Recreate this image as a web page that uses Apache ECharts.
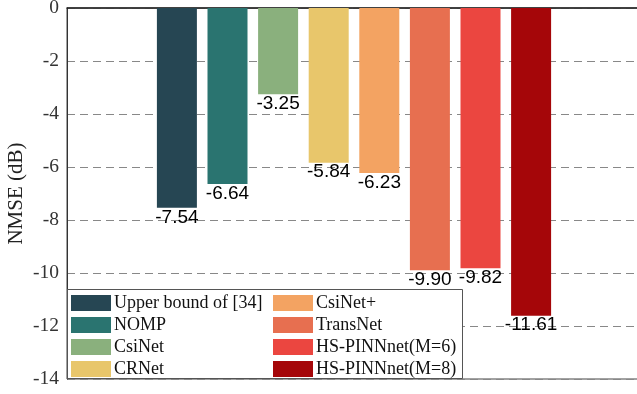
<!DOCTYPE html>
<html>
<head>
<meta charset="utf-8">
<script src="https://cdn.jsdelivr.net/npm/echarts@6/dist/echarts.min.js"></script>
<style>
  html, body { margin: 0; padding: 0; background: #fff; }
  #chart { width: 637px; height: 394px; }
</style>
</head>
<body>
<div id="chart"></div>
<script>
// NMSE of each channel feedback scheme
const methods = ['Upper bound of [34]', 'NOMP', 'CsiNet', 'CRNet', 'CsiNet+', 'TransNet', 'HS-PINNnet(M=6)', 'HS-PINNnet(M=8)'];
const nmseValues = [-7.54, -6.64, -3.25, -5.84, -6.23, -9.90, -9.82, -11.61];
const barColors = ['#264653', '#2A7470', '#8AB07D', '#E8C66B', '#F3A362', '#E76F50', '#EB4640', '#A50609'];
const yTicks = [0, -2, -4, -6, -8, -10, -12, -14];

const serif = 'Liberation Serif';
const sans = 'Liberation Sans';

const series = methods.map((name, i) => ({
  name: name,
  type: 'bar',
  barWidth: 40,
  barGap: '26.5%',
  barCategoryGap: '31%',
  itemStyle: { color: barColors[i] },
  data: [nmseValues[i]],
  label: {
    show: true,
    position: 'bottom',
    distance: 0,
    color: '#000',
    fontFamily: sans,
    fontSize: 19,
    formatter: p => p.value.toFixed(2)
  }
}));

const chart = echarts.init(document.getElementById('chart'), null, { renderer: 'canvas' });

const legendBase = {
  orient: 'vertical',
  top: 294,
  itemWidth: 40,
  itemHeight: 16,
  itemGap: 4,
  icon: 'rect',
  padding: 0,
  textStyle: { fontFamily: serif, fontSize: 18, color: '#111', padding: [0, 0, 0, -2] },
  z: 10
};

chart.setOption({
  animation: false,
  grid: {
    left: 67, top: 8, width: 574, height: 371,
    outerBoundsMode: 'none',
    containLabel: false,
    show: true, borderColor: '#444', borderWidth: 1, backgroundColor: 'transparent'
  },
  xAxis: {
    type: 'category',
    data: [''],
    axisLine: { show: true, onZero: true, lineStyle: { color: '#222', width: 1.5 } },
    axisTick: { show: false },
    axisLabel: { show: false },
    splitLine: { show: false }
  },
  yAxis: {
    type: 'value',
    min: yTicks[yTicks.length - 1],
    max: yTicks[0],
    interval: 2,
    name: 'NMSE (dB)',
    nameLocation: 'middle',
    nameMoveOverlap: false,
    nameGap: 40,
    nameTextStyle: { fontFamily: serif, fontSize: 21, color: '#222' },
    axisLine: { show: true, lineStyle: { color: '#333', width: 1 } },
    axisTick: { show: false },
    axisLabel: { fontFamily: serif, fontSize: 19.5, color: '#333', margin: 8 },
    splitLine: { show: true, lineStyle: { color: '#888', type: [8, 5], width: 1 } }
  },
  legend: [
    Object.assign({}, legendBase, { left: 71, data: methods.slice(0, 4) }),
    Object.assign({}, legendBase, { left: 273, data: methods.slice(4) })
  ],
  graphic: [{
    type: 'rect',
    z: 5,
    shape: { x: 67.5, y: 289.5, width: 395, height: 89 },
    style: { fill: '#fff', stroke: '#555', lineWidth: 1 }
  }],
  series: series
});
</script>
</body>
</html>
